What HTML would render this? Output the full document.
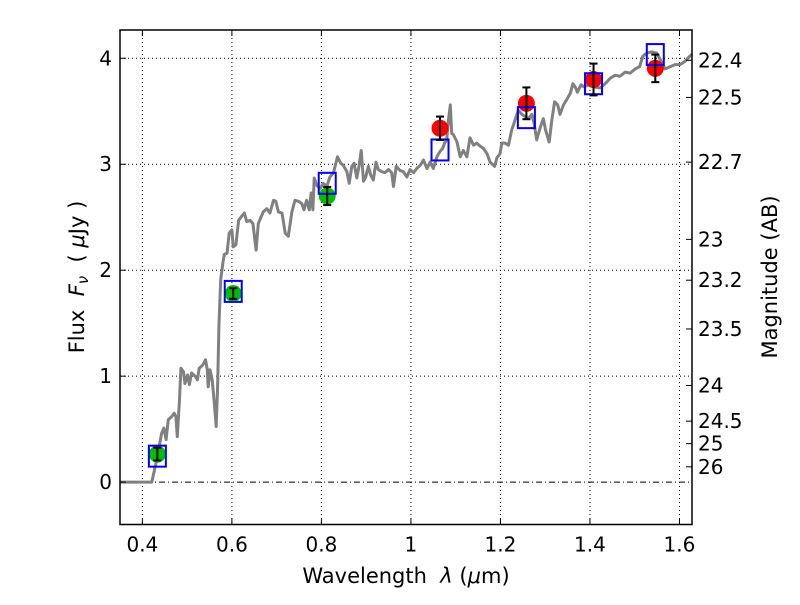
<!DOCTYPE html>
<html><head><meta charset="utf-8"><style>
html,body{margin:0;padding:0;background:#fff;}
svg text{font-family:"DejaVu Sans","Liberation Sans",sans-serif;fill:#000;}
</style></head><body>
<svg id="chart" width="800" height="600" viewBox="0 0 800 600" xmlns="http://www.w3.org/2000/svg">
<rect width="800" height="600" fill="#fff"/>
<g id="grid"></g>
<g id="plot"></g>
<rect x="120" y="30" width="572" height="494.5" fill="none" stroke="#000" stroke-width="1.5"/>
<g id="ticks"></g>
<text x="406" y="583" font-size="21" text-anchor="middle">Wavelength&#160;&#160;<tspan font-style="italic">λ</tspan> (<tspan font-style="italic">μ</tspan>m)</text>
<text transform="translate(84,277) rotate(-90)" font-size="21" text-anchor="middle">Flux&#160;&#160;<tspan font-style="italic">F</tspan><tspan font-style="italic" font-size="15" dy="4">ν</tspan><tspan dy="-4">&#160;&#160;(&#160;<tspan font-style="italic">μ</tspan>Jy&#160;)</tspan></text>
<text transform="translate(777,277) rotate(-90)" font-size="21" text-anchor="middle">Magnitude (AB)</text>
</svg>
<script>
const specX=[0.35,0.421,0.432,0.443,0.448,0.453,0.458,0.466,0.471,0.475,0.478,0.483,0.486,0.492,0.495,0.501,0.505,0.510,0.518,0.523,0.527,0.535,0.541,0.545,0.547,0.551,0.556,0.560,0.565,0.568,0.571,0.575,0.580,0.583,0.589,0.594,0.600,0.603,0.609,0.615,0.622,0.628,0.633,0.641,0.647,0.654,0.659,0.670,0.678,0.685,0.693,0.698,0.704,0.712,0.719,0.726,0.734,0.741,0.749,0.756,0.761,0.767,0.773,0.777,0.781,0.784,0.790,0.797,0.804,0.812,0.819,0.827,0.836,0.843,0.849,0.857,0.862,0.868,0.873,0.879,0.884,0.889,0.894,0.899,0.905,0.910,0.916,0.922,0.927,0.935,0.942,0.950,0.957,0.961,0.967,0.976,0.983,0.991,0.998,1.006,1.013,1.021,1.028,1.036,1.043,1.050,1.058,1.065,1.071,1.075,1.080,1.084,1.088,1.091,1.095,1.103,1.110,1.117,1.125,1.132,1.140,1.147,1.155,1.162,1.170,1.177,1.187,1.192,1.199,1.203,1.210,1.218,1.225,1.233,1.240,1.248,1.255,1.262,1.270,1.275,1.281,1.289,1.296,1.301,1.309,1.315,1.321,1.328,1.333,1.341,1.348,1.356,1.362,1.367,1.372,1.380,1.387,1.397,1.408,1.423,1.434,1.445,1.456,1.467,1.479,1.490,1.501,1.511,1.518,1.527,1.538,1.549,1.558,1.568,1.579,1.590,1.601,1.612,1.623,1.628];
const specY=[0,0,0.21,0.46,0.51,0.40,0.59,0.62,0.65,0.62,0.43,0.78,1.075,1.04,0.93,1.01,0.92,1.03,1.0,0.965,1.075,1.105,1.155,1.06,0.90,1.06,0.965,0.78,0.525,0.90,1.47,1.91,2.07,2.15,2.16,2.35,2.38,2.22,2.24,2.47,2.51,2.54,2.46,2.47,2.44,2.19,2.44,2.55,2.58,2.54,2.66,2.65,2.55,2.54,2.35,2.32,2.55,2.66,2.65,2.63,2.57,2.66,2.57,2.73,2.57,2.87,2.80,2.77,2.82,2.79,2.88,2.92,3.07,3.01,2.99,2.93,2.82,2.98,3.01,2.87,2.98,3.13,2.84,2.88,2.98,2.90,2.85,3.02,2.95,2.93,2.92,2.95,2.92,2.79,2.98,2.94,2.93,2.88,2.95,2.92,2.96,2.99,3.04,2.96,3.02,2.96,3.07,3.12,3.15,3.20,3.23,3.42,3.56,3.29,3.28,3.21,3.07,3.13,3.07,3.25,3.18,3.20,3.17,3.15,3.10,3.02,2.98,3.06,3.10,3.20,3.20,3.18,3.32,3.42,3.51,3.47,3.45,3.43,3.47,3.39,3.23,3.35,3.43,3.32,3.21,3.42,3.59,3.56,3.47,3.56,3.61,3.67,3.76,3.73,3.68,3.75,3.73,3.75,3.73,3.72,3.76,3.81,3.84,3.83,3.87,3.86,3.90,3.92,4.02,4.05,4.06,4.05,3.98,3.90,3.92,3.94,3.94,3.97,4.02,4.04];
const modelX=[0.4335,0.603,0.813,1.065,1.258,1.408,1.546];
const modelY=[0.245,1.80,2.82,3.135,3.44,3.76,4.035];
const greenX=[0.4335,0.603,0.813];
const greenY=[0.264,1.78,2.70];
const greenErr=[0.06,0.05,0.085];
const redX=[1.065,1.258,1.408,1.546];
const redY=[3.34,3.575,3.80,3.905];
const redErr=[0.11,0.15,0.15,0.13];
const xTicks=[0.4,0.6,0.8,1.0,1.2,1.4,1.6];
const xTickLabels=["0.4","0.6","0.8","1","1.2","1.4","1.6"];
const yTicks=[0,1,2,3,4];
const magTicks=[22.4,22.5,22.7,23,23.2,23.5,24,24.5,25,26];

const NS="http://www.w3.org/2000/svg";
const X0=0.35,X1=1.628,Y0=-0.40,Y1=4.267;
const L=120,R=692,T=30,B=524.5;
const sx=v=>L+(v-X0)/(X1-X0)*(R-L);
const sy=v=>B-(v-Y0)/(Y1-Y0)*(B-T);
function mk(tag,attrs,parent){const e=document.createElementNS(NS,tag);for(const k in attrs)e.setAttribute(k,attrs[k]);parent.appendChild(e);return e;}
const grid=document.getElementById('grid'),plot=document.getElementById('plot'),ticks=document.getElementById('ticks');

xTicks.forEach((t,i)=>{
  const g=mk('line',{x1:sx(t),x2:sx(t),y1:T,y2:B,stroke:'#000','stroke-width':1,'stroke-dasharray':'1,3'},grid);
  
  
  const tk=mk('line',{x1:sx(t),x2:sx(t),y1:B,y2:B-6,stroke:'#000','stroke-width':1},ticks);
  
  
  const tk2=mk('line',{x1:sx(t),x2:sx(t),y1:T,y2:T+6,stroke:'#000','stroke-width':1},ticks);
  
  
  const tl=mk('text',{x:sx(t),y:B+27,'font-size':20,'text-anchor':'middle'},ticks);
  tl.textContent=xTickLabels[i];
  
  
});
yTicks.forEach(t=>{
  const g=mk('line',{x1:L,x2:R,y1:sy(t),y2:sy(t),stroke:'#000','stroke-width':1,'stroke-dasharray':t===0?'6,3,1,3':'1,3'},grid);
  
  
  const tk=mk('line',{x1:L,x2:L+6,y1:sy(t),y2:sy(t),stroke:'#000','stroke-width':1},ticks);
  
  
  const tl=mk('text',{x:L-8,y:sy(t)+7,'font-size':20,'text-anchor':'end'},ticks);
  tl.textContent=String(t);
  
  
});
magTicks.forEach(m=>{
  const f=Math.pow(10,(23.9-m)/2.5);
  const y=sy(f);
  const tk=mk('line',{x1:R,x2:R-6,y1:y,y2:y,stroke:'#000','stroke-width':1},ticks);
  
  
  const tl=mk('text',{x:R+6,y:y+7,'font-size':20,'text-anchor':'start'},ticks);
  tl.textContent=String(m);
  
  
});

const pts=specX.map((x,i)=>sx(x).toFixed(1)+','+sy(specY[i]).toFixed(1)).join(' ');
const sp=mk('polyline',{points:pts,fill:'none',stroke:'#808080','stroke-width':3,'stroke-linejoin':'round'},plot);



function errbar(x,y,e,name){
  const g=mk('g',{},plot);
  
  
  mk('line',{x1:sx(x),x2:sx(x),y1:sy(y+e),y2:sy(y-e),stroke:'#000','stroke-width':2},g);
  mk('line',{x1:sx(x)-4,x2:sx(x)+4,y1:sy(y+e),y2:sy(y+e),stroke:'#000','stroke-width':2},g);
  mk('line',{x1:sx(x)-4,x2:sx(x)+4,y1:sy(y-e),y2:sy(y-e),stroke:'#000','stroke-width':2},g);
}
greenX.forEach((x,i)=>{
  const c=mk('circle',{cx:sx(x),cy:sy(greenY[i]),r:8.5,fill:'#00bf00'},plot);
  
  
});
redX.forEach((x,i)=>{
  const c=mk('circle',{cx:sx(x),cy:sy(redY[i]),r:8.5,fill:'#ff0000'},plot);
  
  
});
modelX.forEach((x,i)=>{
  const r=mk('rect',{x:sx(x)-8.5,y:sy(modelY[i])-10.5,width:17,height:21,fill:'none',stroke:'#0000ff','stroke-width':2},plot);
  
  
});
greenX.forEach((x,i)=>errbar(x,greenY[i],greenErr[i],'green-errorbar'));
redX.forEach((x,i)=>errbar(x,redY[i],redErr[i],'red-errorbar'));
</script>
</body></html>
